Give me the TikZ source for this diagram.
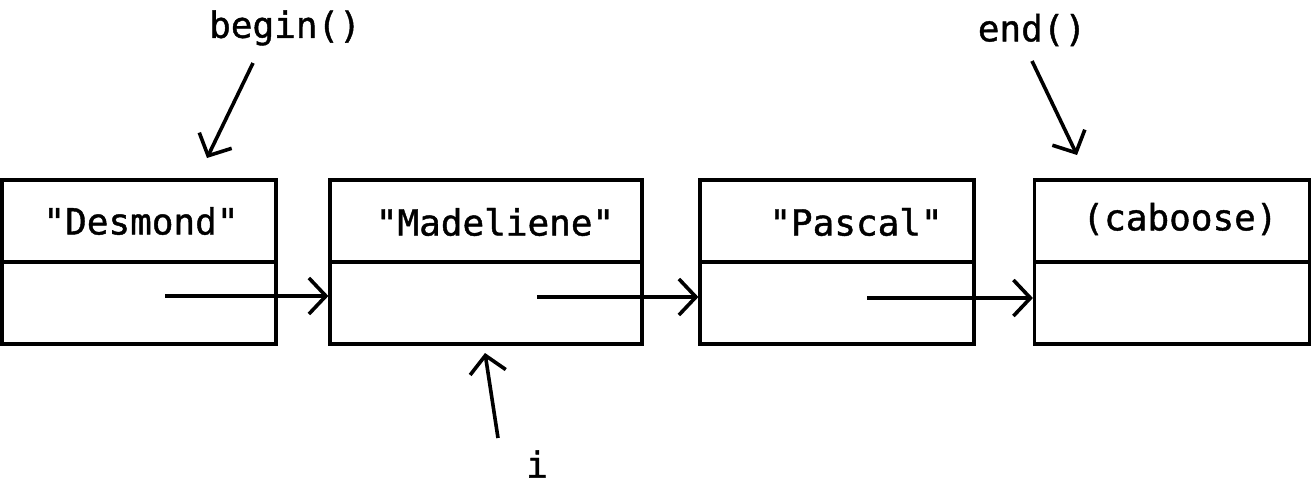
\documentclass[tikz,border=0pt]{standalone}
\usepackage{fontspec}
\setmonofont[FakeBold=1.2]{DejaVu Sans Mono}
\usetikzlibrary{arrows.meta}
\tikzset{
  cell/.style={draw, line width=3.2pt, minimum height=82pt, inner sep=0pt, font=\ttfamily\fontsize{36}{40}\selectfont},
  lbl/.style={font=\ttfamily\fontsize{36}{40}\selectfont, inner sep=0pt},
  ptr/.style={line width=3.6pt, -{Straight Barb[length=17pt,width=36pt,line width=3.6pt]}},
}
\begin{document}
\begin{tikzpicture}[x=1pt,y=-1pt]
\useasboundingbox (0,0) rectangle (1313,488);
% top cells
\node[cell, minimum width=274pt] (t1) at (139,221) {};
\node[cell, minimum width=312pt] (t2) at (486,221) {};
\node[cell, minimum width=274pt] (t3) at (837,221) {};
\node[cell, minimum width=275pt] (t4) at (1172,221) {};
\node[lbl] at (141,221) {"Desmond"};
\node[lbl] at (495,222) {"Madeliene"};
\node[lbl] at (856,222) {"Pascal"};
\node[lbl] at (1180,219) {(caboose)};
% bottom cells
\node[cell, minimum width=274pt] (b1) at (139,303) {};
\node[cell, minimum width=312pt] (b2) at (486,303) {};
\node[cell, minimum width=274pt] (b3) at (837,303) {};
\node[cell, minimum width=275pt] (b4) at (1172,303) {};
% next pointers
\coordinate (s1) at (165,296);
\coordinate (s2) at (537,297);
\coordinate (s3) at (867,298);
\draw[ptr] (s1) -- (s1 -| b2.west);
\draw[ptr] (s2) -- (s2 -| b3.west);
\draw[ptr] (s3) -- (s3 -| b4.west);
% iterators
\node[lbl] (beg) at (285,28) {begin()};
\node[lbl] (end) at (1032,30) {end()};
\node[lbl] (it) at (537,464) {i};
\coordinate (bs) at (253,63);
\coordinate (be) at (207,158);
\coordinate (es) at (1032,61);
\coordinate (ee) at (1077,155);
\coordinate (is) at (498,438);
\coordinate (ie) at (485,353);
\draw[ptr] (bs) -- (be);
\draw[ptr] (es) -- (ee);
\draw[ptr] (is) -- (ie);
\end{tikzpicture}
\end{document}
